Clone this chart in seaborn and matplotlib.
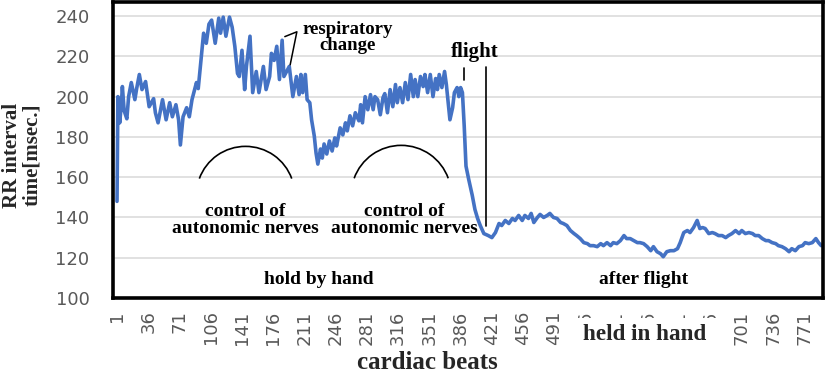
import seaborn as sns
import matplotlib.pyplot as plt
import pandas as pd
from matplotlib.patches import Arc, Rectangle

# RR interval, before the flight (held by hand)
hold_beats = [1, 2, 4, 6, 7, 9, 12, 14, 17, 21, 23, 26, 29, 33, 37, 42, 44, 47, 52, 56,
              60, 63, 67, 70, 72, 75, 79, 82, 85, 90, 92, 95, 98, 101, 104, 107, 111, 115,
              117, 120, 123, 127, 130, 133, 136, 138, 141, 144, 146, 150, 153, 157, 160,
              165, 168, 172, 174, 177, 180, 183, 186, 188, 191, 194, 198, 202, 205, 207,
              209, 212, 214, 217, 219, 222, 224, 226, 229, 231, 233, 236, 239, 242, 245,
              247, 251, 254, 257, 259, 262, 265, 268, 272, 274, 276, 279, 282, 285, 288,
              290, 293, 296, 299, 301, 304, 307, 310, 313, 315, 318, 321, 324, 327, 330,
              333, 335, 338, 341, 344, 346, 349, 352, 355, 358, 360, 362, 365, 368, 370,
              372, 374, 377, 379, 382, 384, 386, 388]
hold_rr = [148, 200, 187, 197, 205, 193, 189, 200, 207, 198.5, 204, 211, 203.5, 207.5, 195,
           199, 192, 187, 198.5, 188.5, 197, 190, 196, 188.5, 176, 190, 194.5, 190, 198.5,
           207, 204, 218, 231.5, 226.5, 236, 238, 226.5, 239, 231.5, 239.5, 230, 239.5,
           234.5, 225, 211.5, 210, 223, 203.5, 215, 230, 202, 212.5, 202, 215, 203.5, 210,
           221.5, 218, 225, 208.5, 228, 210, 212.5, 215, 200, 210, 201, 211, 202, 211,
           198.5, 197, 188.5, 180.5, 172, 166.5, 174, 169.5, 176.5, 171.5, 178, 173, 179.5,
           175.5, 184.5, 181, 187, 183, 190.5, 185.5, 192, 188, 196, 187, 200, 193.5, 201,
           193.5, 200, 198.5, 191, 199.5, 201.5, 192, 203.5, 195, 206, 197, 204.5, 197, 207,
           198.5, 211, 200, 208.5, 200, 210, 205, 211, 202, 211, 200, 209, 203.5, 211,
           204.5, 212.5, 206, 197, 188.5, 194.5, 202, 204.5, 200, 204.5, 202]

# drop at the flight and the recording after it
after_beats = [390, 392, 395, 399, 402, 405, 408, 412, 417, 421, 425, 429, 432, 436, 440,
               444, 447, 451, 455, 458, 462, 465, 468, 472, 475, 479, 483, 486, 490, 494,
               498, 501, 505, 509, 513, 516, 520, 524, 528, 531, 535, 539, 543, 546, 550,
               554, 557, 561, 565, 569, 572, 576, 580, 584, 587, 591, 595, 599, 602, 606,
               610, 613, 617, 621, 625, 629, 632, 636, 640, 643, 647, 651, 654, 657, 660,
               664, 668, 671, 675, 679, 683, 686, 690, 694, 698, 701, 705, 709, 713, 716,
               720, 724, 728, 731, 735, 739, 742, 746, 750, 754, 757, 761, 765, 769, 772,
               776, 780, 784, 787, 790]
after_rr = [185.5, 165.5, 159, 151, 144, 139.5, 136, 132, 131, 130, 132.5, 137, 136, 138.5,
            137, 139.5, 138.5, 141, 138.5, 141, 139.5, 142, 137.5, 140, 141.5, 140, 141, 142,
            140, 139.5, 137.5, 137, 136, 133.5, 132, 131, 129.5, 127.5, 127, 126, 126, 125.5,
            127, 126, 127.5, 126, 127.5, 127, 128.5, 131, 129.5, 129.5, 128.5, 127.5, 127.5,
            127, 125.5, 123.5, 125.5, 123, 122, 120.5, 123, 123.5, 123.5, 124.5, 127.5,
            132.5, 133.5, 132.5, 135, 138.5, 134.5, 135, 134.5, 132, 132.5, 132, 131, 131,
            130, 131, 132, 133.5, 132, 133.5, 132, 132.5, 132, 131, 131, 129.5, 128.5, 128.5,
            127.5, 127, 126, 125.5, 124.5, 123, 124.5, 123.5, 125.5, 126, 127.5, 127, 127.5,
            129.5, 127.5, 126]

tick_beats = [1, 36, 71, 106, 141, 176, 211, 246, 281, 316, 351, 386, 421, 456, 491, 526,
              561, 596, 631, 666, 701, 736, 771]
y_ticks = [100, 120, 140, 160, 180, 200, 220, 240]

df = pd.DataFrame({'beat': hold_beats + after_beats, 'rr': hold_rr + after_rr})

sns.set_style('white')
serif = ['Liberation Serif', 'DejaVu Serif']

fig = plt.figure(figsize=(8.27, 3.74), dpi=100)
ax = fig.add_axes([113 / 827, 1 - 298 / 374, 710 / 827, 296 / 374])

sns.lineplot(data=df, x='beat', y='rr', estimator=None, color='#4472C4', lw=2.6, ax=ax)

ax.set_xlim(-3.5, 792)
ax.set_ylim(100, 247)
ax.set_xticks(tick_beats)
ax.set_xticklabels([str(t) for t in tick_beats], rotation=90)
ax.set_yticks(y_ticks)
ax.set_xlabel('')
ax.set_ylabel('')
ax.tick_params(axis='both', length=0, labelcolor='#595959', labelsize=13)
ax.tick_params(axis='y', pad=17)
ax.tick_params(axis='x', pad=9)
ax.yaxis.grid(True, color='#d9d9d9', lw=1.1)
ax.set_axisbelow(True)
for s in ax.spines.values():
    s.set_color('black')
    s.set_linewidth(2.6)

# annotations
tkw = dict(family=serif, weight='bold', color='black', ha='center', va='center')
ax.text(259, 229.4, 'respiratory\nchange', fontsize=13.5, linespacing=0.95, **tkw)
ax.plot([189, 202.5, 195], [229.8, 232.2, 215.8], color='black', lw=1.1)
ax.text(402, 222.2, 'flight', fontsize=15, **tkw)
ax.plot([389.3, 389.3], [208.4, 214.3], color='black', lw=1.2)
ax.plot([414.7, 414.7], [136, 214.8], color='black', lw=1.2)
ax.text(144.5, 138.8, 'control of\nautonomic nerves', fontsize=14, linespacing=0.95, **tkw)
ax.text(322.7, 138.8, 'control of\nautonomic nerves', fontsize=14, linespacing=0.95, **tkw)
ax.text(227.5, 109.1, 'hold by hand', fontsize=14, **tkw)
ax.text(590.7, 109.1, 'after flight', fontsize=14, **tkw)
ax.add_patch(Arc((145, 151.1), 110, 48.4, theta1=9, theta2=171, color='black', lw=1.2))
ax.add_patch(Arc((319.4, 151.1), 112, 49.4, theta1=9, theta2=171, color='black', lw=1.2))

# white box over part of the x tick labels, as in the source figure
fig.add_artist(Rectangle((574 / 827, 1 - 352 / 374), 148 / 827, 34 / 374,
                         transform=fig.transFigure, facecolor='white', edgecolor='none', zorder=5))
fig.text(645 / 827, 1 - 340 / 374, 'held in hand', family=serif, weight='bold', fontsize=16.7,
         ha='center', va='baseline', zorder=6)

fig.text(427 / 827, 1 - 369 / 374, 'cardiac beats', family=serif, weight='bold', fontsize=18,
         ha='center', va='baseline')
fig.text(22 / 827, 1 - 155 / 374, 'RR interval\ntime[msec.]', family=serif, weight='bold',
         fontsize=15, rotation=90, ha='center', va='center', linespacing=1.05)

fig.savefig('out.png', dpi=100)
